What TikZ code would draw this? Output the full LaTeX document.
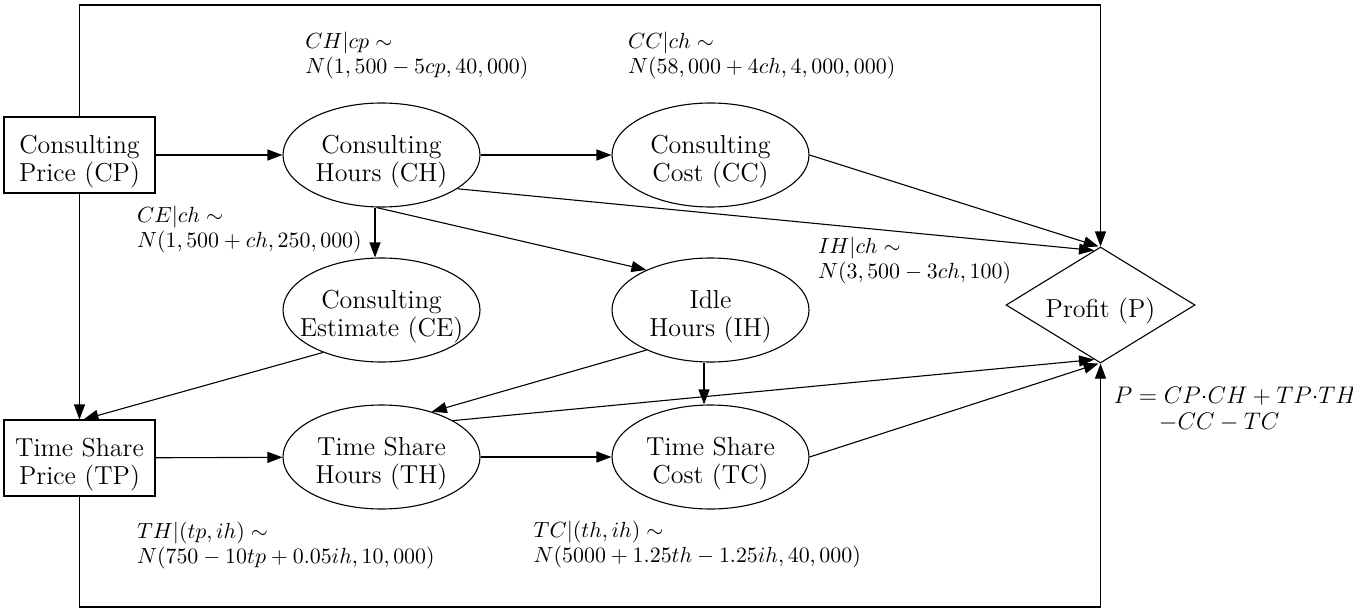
\documentclass[tikz,border=0pt]{standalone}
\usetikzlibrary{shapes.geometric,arrows.meta,calc}
\newcommand{\lblfont}{\fontsize{11}{12.5}\selectfont\lineskiplimit-10pt\relax}
\newcommand{\plblfont}{\fontsize{12}{12.8}\selectfont\lineskiplimit-10pt\relax}
\newcommand{\tup}{\rule{0pt}{15.5pt}}
\begin{document}
\begin{tikzpicture}[x=0.5pt,y=-0.5pt,
  every node/.style={font=\fontsize{13}{14}\selectfont},
  varbox/.style={draw,rectangle,minimum width=75.5pt,minimum height=38pt,inner sep=0pt,align=center,line width=0.55pt},
  varell/.style={draw,ellipse,minimum width=98.5pt,minimum height=52pt,inner xsep=-12pt,inner ysep=0pt,align=center,line width=0.55pt},
  vardia/.style={draw,diamond,aspect=2,minimum width=94.5pt,minimum height=58pt,inner sep=0pt,line width=0.55pt},
  arr/.style={-{Triangle[length=7.5pt,width=5.5pt]},line width=0.55pt},
  distlbl/.style={anchor=north west,inner sep=0pt,align=left,font=\lblfont},
  plbl/.style={anchor=north west,inner sep=0pt,align=left,font=\plblfont}
]
\useasboundingbox (0,0) rectangle (1353,610);

% variables
\node[varbox] (CP) at (79.5,155) {\tup Consulting\\Price (CP)};
\node[varbox] (TP) at (79.5,458) {\tup Time Share\\Price (TP)};
\node[varell] (CH) at (381.5,155) {\tup Consulting\\Hours (CH)};
\node[varell] (CC) at (710.5,155) {\tup Consulting\\Cost (CC)};
\node[varell] (CE) at (381.5,310) {\tup Consulting\\Estimate (CE)};
\node[varell] (IH) at (710.5,310) {\tup Idle\\Hours (IH)};
\node[varell] (TH) at (381.5,457) {\tup Time Share\\Hours (TH)};
\node[varell] (TC) at (710.5,457) {\tup Time Share\\Cost (TC)};
\node[vardia] (P) at (1100.5,305) {\tup Profit (P)};

\coordinate (top) at (0,5);
\coordinate (bot) at (0,607);

% connectors
\draw[arr] (CP) -- (CH);
\draw[arr] (CH) -- (CC);
\draw[arr] ([xshift=-3.25pt]CH.south) -- ([xshift=-3.25pt]CE.north);
\draw[arr] ([xshift=-2.5pt]CH.south) -- (IH.148);
\draw[arr] (CH.-24) -- ([xshift=-3.25pt,yshift=-2pt]P.north);
\draw[arr] (CC.east) -- ([xshift=-1pt]P.north);
\draw[arr] (CP.north) -- (CP.north |- top) -- (P.north |- top) -- (P.north);
\draw[arr] (CP) -- (TP);
\draw[arr] (CE.216) -- ([xshift=2pt]TP.north);
\draw[arr] (IH.212) -- (TH.42);
\draw[arr] ([xshift=-3.25pt]IH.south) -- ([xshift=-3.25pt]TC.north);
\draw[arr] (TH.27) -- ([xshift=-3.25pt,yshift=2pt]P.south);
\draw[arr] (TC.east) -- ([xshift=-1pt]P.south);
\draw[arr] (TP) -- (TH);
\draw[arr] (TH) -- (TC);
\draw[arr] (TP.south) -- (TP.south |- bot) -- (P.south |- bot) -- (P.south);

% distribution labels
\node[distlbl] (lCH) at (305,31.5) {$CH|cp\sim$\\$N(1,500-5cp,40,000)$};
\node[distlbl] (lCC) at (627.7,31.5) {$CC|ch\sim$\\$N(58,000+4ch,4,000,000)$};
\node[distlbl] (lCE) at (136.7,206) {$CE|ch\sim$\\$N(1,500+ch,250,000)$};
\node[distlbl] (lIH) at (817.7,236.7) {$IH|ch\sim$\\$N(3,500-3ch,100)$};
\node[distlbl] (lTH) at (136.7,521.7) {$TH|(tp,ih)\sim$\\$N(750-10tp+0.05ih,10,000)$};
\node[distlbl] (lTC) at (533.3,520.7) {$TC|(th,ih)\sim$\\$N(5000+1.25th-1.25ih,40,000)$};
\node[plbl] (lP) at (1113.5,386.7) {$P=CP{\cdot}CH+TP{\cdot}TH$\\\hspace*{22.5pt}$-CC-TC$};
\end{tikzpicture}
\end{document}
